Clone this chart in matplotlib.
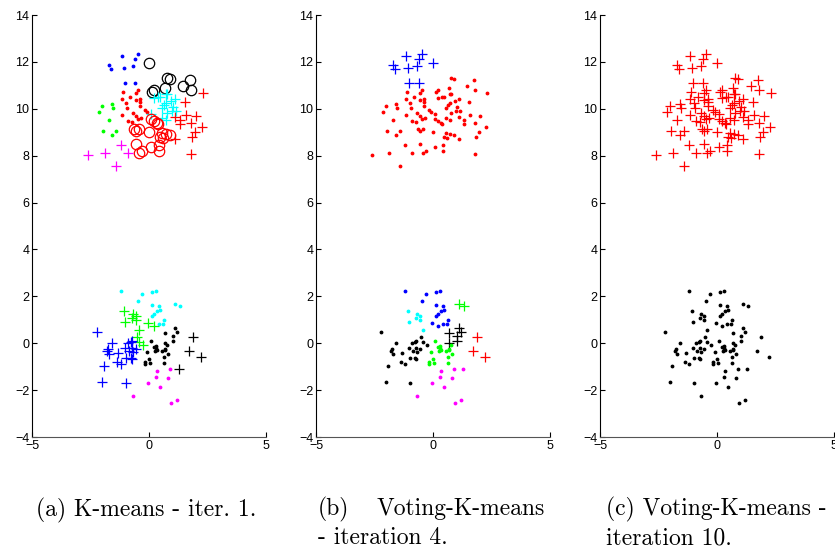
import matplotlib
matplotlib.use("Agg")
import matplotlib.pyplot as plt
import numpy as np

# upper cluster (same points in all three panels)
top_x = [-1.14, -0.48, -0.60, -1.71, -1.62, -1.07, -0.67, 0.02, -1.03, -0.60,
         0.77, 0.89, 1.74, 1.47, 1.81, 2.30, 0.69, -1.11, -0.56, -0.49,
         0.11, 0.21, 0.72, 0.79, -0.82, -1.16, 0.23, 0.39, 0.49, 1.13,
         -0.55, -0.39, -0.40, 0.93, 1.52, -0.99, 0.72, 0.62, -1.58, -2.02,
         -1.55, -0.96, -0.40, -0.19, 0.55, 1.03, -2.13, -0.09, -0.67, -0.57,
         -1.16, 0.08, 0.76, 0.99, 1.14, 1.99, 1.60, -1.71, -0.91, -0.73,
         -0.48, -0.33, 0.08, 0.21, 0.36, 0.38, 0.57, 0.73, 1.10, 1.34,
         1.34, 1.79, 2.25, -1.96, -1.43, -0.65, -0.56, -0.42, 0.01, 0.57,
         0.73, 0.91, 0.48, 0.59, 1.13, 1.96, 1.85, -1.60, -1.18, -0.57,
         0.08, 0.42, -0.32, -0.43, 0.42, -1.89, -0.91, -2.59, 1.81, -1.40]
top_y = [12.23, 12.34, 12.11, 11.87, 11.70, 11.73, 11.84, 11.94, 11.09, 11.09,
         11.32, 11.29, 11.22, 10.99, 10.80, 10.66, 10.90, 10.70, 10.69, 10.79,
         10.70, 10.79, 10.63, 10.61, 10.50, 10.43, 10.48, 10.49, 10.49, 10.43,
         10.38, 10.40, 10.30, 10.33, 10.30, 10.25, 10.23, 10.16, 10.21, 10.11,
         10.05, 10.04, 10.12, 9.96, 10.04, 10.08, 9.85, 9.85, 9.81, 9.71,
         9.74, 9.78, 9.82, 9.91, 9.92, 9.71, 9.74, 9.52, 9.47, 9.44,
         9.55, 9.61, 9.55, 9.48, 9.41, 9.34, 9.61, 9.52, 9.64, 9.54,
         9.37, 9.40, 9.24, 9.07, 9.05, 9.14, 9.04, 9.15, 9.00, 8.98,
         8.93, 8.87, 8.80, 8.74, 8.71, 9.00, 8.78, 8.87, 8.47, 8.51,
         8.39, 8.47, 8.21, 8.13, 8.20, 8.12, 8.10, 8.04, 8.07, 7.57]
top_a = ['b.', 'b.', 'b.', 'b.', 'b.', 'b.', 'b.', 'ko', 'b.', 'b.',
         'ko', 'ko', 'ko', 'ko', 'ko', 'r+', 'ko', 'r.', 'r.', 'r.',
         'ko', 'ko', 'c+', 'c+', 'r.', 'r.', 'c+', 'c+', 'c+', 'c+',
         'r.', 'r.', 'r.', 'c+', 'r+', 'r.', 'c+', 'c+', 'g.', 'g.',
         'g.', 'r.', 'r.', 'r.', 'c+', 'c+', 'g.', 'r.', 'r.', 'r.',
         'r.', 'c+', 'c+', 'c+', 'c+', 'r+', 'r+', 'g.', 'r.', 'r.',
         'r.', 'r.', 'ro', 'ro', 'ro', 'ro', 'c+', 'c+', 'r+', 'r+',
         'r+', 'r+', 'r+', 'g.', 'g.', 'ro', 'ro', 'ro', 'ro', 'ro',
         'ro', 'ro', 'ro', 'ro', 'r+', 'r+', 'r+', 'g.', 'm+', 'ro',
         'ro', 'ro', 'ro', 'ro', 'ro', 'm+', 'm+', 'm+', 'r+', 'm+']
top_b = ['b+'] * 10 + ['r.'] * 90
top_c = ['r+'] * 100

# lower cluster
bot_x = [-1.21, -0.29, 0.11, 0.28, -0.46, 0.13, 0.43, 0.36, 0.46, 0.21,
         0.13, 0.63, -0.05, 0.21, 0.42, 0.59, -1.07, -0.69, -0.55, -0.74,
         -0.56, -1.04, -0.43, 1.09, 1.33, 1.09, 1.20, 0.67, 1.03, 1.01,
         0.70, 1.88, 1.72, 2.23, -2.23, -1.58, -0.90, -0.79, -0.72, -0.53,
         -0.43, -0.26, -1.03, -0.86, -0.72, -0.57, -0.67, -1.74, -1.78, -1.71,
         -1.33, -1.00, -0.76, -0.72, -1.38, -1.18, -1.92, -1.99, -1.00, 0.09,
         -0.08, 0.21, 0.30, 0.28, 0.35, 0.25, 0.56, 0.67, 0.79, 0.70,
         0.66, 0.82, -0.01, -0.15, -0.19, 0.06, 0.66, 0.35, 0.89, 1.28,
         0.29, 0.82, -0.04, 0.45, -0.69, 1.20, 0.96]
bot_y = [2.24, 2.08, 2.20, 2.24, 1.81, 1.64, 1.60, 1.37, 1.42, 1.25,
         1.16, 0.99, 0.88, 0.75, 0.82, 0.80, 1.37, 1.23, 1.16, 1.06,
         0.99, 0.89, 0.56, 1.67, 1.59, 0.66, 0.49, 0.42, 0.31, 0.09,
         0.02, 0.25, -0.32, -0.60, 0.46, 0.02, -0.01, 0.07, 0.08, 0.25,
         0.07, -0.08, -0.19, -0.32, -0.22, -0.26, -0.36, -0.26, -0.32, -0.46,
         -0.43, -0.65, -0.65, -0.67, -0.79, -0.89, -0.97, -1.67, -1.71, 0.11,
         -0.36, -0.15, -0.12, -0.22, -0.29, -0.32, -0.32, -0.29, -0.09, -0.26,
         -0.57, -0.46, -0.67, -0.79, -0.89, -0.83, -0.83, -1.19, -1.11, -1.10,
         -1.43, -1.47, -1.68, -1.85, -2.24, -2.44, -2.57]
bot_a = ['c.'] * 12 + ['g+', 'g+', 'c.', 'c.'] + ['g+'] * 7 + ['c.', 'c.'] \
    + ['k.'] * 6 + ['k+'] * 3 + ['b+'] * 5 + ['g+'] * 3 + ['b+'] * 17 \
    + ['k.'] * 18 + ['m.', 'm.', 'k+'] + ['m.'] * 7
bot_b = ['b.'] * 16 + ['c.'] * 7 + ['g+'] * 2 + ['k+'] * 6 + ['r+'] * 3 \
    + ['k.'] * 25 + ['g.'] * 18 + ['m.'] * 10
bot_c = ['k.'] * 87

colors = {'b': (0, 0, 1), 'r': (1, 0, 0), 'g': (0, 1, 0), 'c': (0, 1, 1),
          'm': (1, 0, 1), 'k': (0, 0, 0)}

captions = ["(a) K-means - iter. 1.", "(b)   Voting-K-means\n- iteration 4.",
            "(c) Voting-K-means -\niteration 10."]

fig = plt.figure(figsize=(8.35, 5.5), dpi=100)
lefts = [32, 316, 600]

def draw_panel(ax, xs, ys, labels):
    xs = np.array(xs)
    ys = np.array(ys)
    labels = np.array(labels)
    for lab in dict.fromkeys(labels):
        m = labels == lab
        col = colors[lab[0]]
        mk = lab[1]
        if mk == '.':
            ax.plot(xs[m], ys[m], ls='none', marker='.', ms=3.5, color=col)
        elif mk == '+':
            ax.plot(xs[m], ys[m], ls='none', marker='+', ms=6.5, mew=0.9, color=col)
        else:
            ax.plot(xs[m], ys[m], ls='none', marker='o', ms=7.5, mew=0.9,
                    mfc='none', mec=col)

panels = [(top_a, bot_a), (top_b, bot_b), (top_c, bot_c)]
for i, (la, lb) in enumerate(panels):
    ax = fig.add_axes([lefts[i] / 835, (550 - 437) / 550, 234 / 835, 422 / 550])
    draw_panel(ax, top_x, top_y, la)
    draw_panel(ax, bot_x, bot_y, lb)
    ax.set_xlim(-5, 5)
    ax.set_ylim(-4, 14)
    ax.set_xticks([-5, 0, 5])
    ax.set_yticks(np.arange(-4, 15, 2))
    ax.spines['top'].set_visible(False)
    ax.spines['right'].set_visible(False)
    ax.spines['left'].set_linewidth(0.8)
    ax.spines['bottom'].set_linewidth(0.8)
    ax.spines['bottom'].set_color('#555555')
    ax.tick_params(direction='in', length=3.5, width=0.8, pad=2, labelsize=9)
    for t in ax.get_xticklabels() + ax.get_yticklabels():
        t.set_fontfamily('Liberation Sans')

cap_kw = dict(fontfamily='cmr10', fontsize=17)
fig.text(146 / 835, 1 - 510 / 550, captions[0], ha='center', va='center', **cap_kw)
l1, l2 = captions[1].split('\n')
fig.text(318 / 835, 1 - 509 / 550, "(b)", ha='left', va='center', **cap_kw)
fig.text(545 / 835, 1 - 509 / 550, "Voting-K-means", ha='right', va='center', **cap_kw)
fig.text(318 / 835, 1 - 538 / 550, l2, ha='left', va='center', **cap_kw)
l1, l2 = captions[2].split('\n')
fig.text(606 / 835, 1 - 509 / 550, l1, ha='left', va='center', **cap_kw)
fig.text(606 / 835, 1 - 538 / 550, l2, ha='left', va='center', **cap_kw)

fig.savefig("out.png", dpi=100)
